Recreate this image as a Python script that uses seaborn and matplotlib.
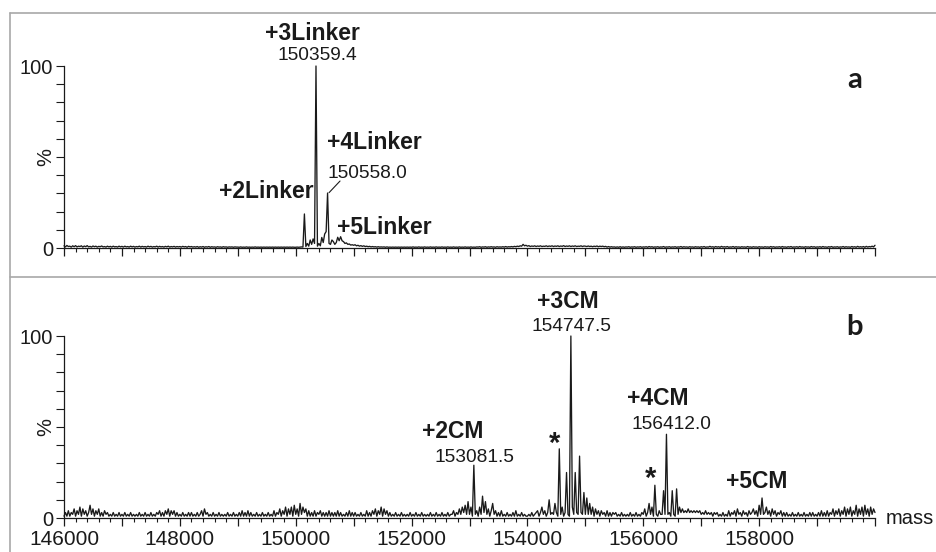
import numpy as np
import pandas as pd
import matplotlib
matplotlib.use('Agg')
import matplotlib.pyplot as plt
from matplotlib.lines import Line2D
from matplotlib.ticker import MultipleLocator, FixedLocator, FuncFormatter, NullFormatter
import seaborn as sns

# ============================================
# DATA  (deconvoluted spectra, relative intensity in %)
# ============================================
MASS_START = 146000      # Da, first point of both spectra
MASS_STEP = 25           # Da between points
MASS_END = 160000

# a: antibody + linker, one line per 1000 Da
LINKER_INTENSITY = [
    1.2, 0.6, 1.4, 0.8, 1.0, 0.5, 1.2, 0.7, 1.3, 0.6, 1.0, 0.8, 1.2, 0.5, 1.1, 0.7, 1.3, 0.6, 0.9, 0.5,
    1.1, 0.7, 1.0, 0.5, 0.9, 0.7, 1.1, 0.6, 0.8, 0.5, 1.0, 0.6, 0.9, 0.5, 1.0, 0.6, 0.8, 0.5, 1.0, 0.6,  # 146000
    0.9, 0.5, 1.0, 0.6, 0.8, 0.5, 1.0, 0.6, 0.9, 0.5, 0.8, 0.6, 1.0, 0.5, 0.9, 0.6, 0.8, 0.5, 1.0, 0.6,
    0.9, 0.5, 0.8, 0.6, 1.0, 0.5, 0.9, 0.6, 0.8, 0.5, 0.9, 0.6, 1.0, 0.5, 0.8, 0.6, 0.9, 0.5, 0.8, 0.6,  # 147000
    0.8, 0.5, 0.9, 0.6, 0.8, 0.4, 0.9, 0.6, 0.8, 0.5, 0.7, 0.5, 0.8, 0.4, 0.7, 0.5, 0.8, 0.4, 0.7, 0.5,
    0.8, 0.4, 0.7, 0.5, 0.6, 0.4, 0.7, 0.5, 0.6, 0.4, 0.7, 0.5, 0.6, 0.4, 0.6, 0.5, 0.6, 0.4, 0.6, 0.5,  # 148000
    0.5, 0.4, 0.6, 0.4, 0.5, 0.4, 0.6, 0.4, 0.5, 0.4, 0.5, 0.4, 0.6, 0.4, 0.5, 0.4, 0.5, 0.4, 0.5, 0.4,
    0.5, 0.4, 0.5, 0.4, 0.5, 0.4, 0.5, 0.4, 0.5, 0.4, 0.5, 0.4, 0.5, 0.4, 0.5, 0.4, 0.5, 0.4, 0.5, 0.4,  # 149000
    0.4, 0.5, 0.4, 0.5, 0.6, 0.5, 18.7, 0.8, 2.5, 1.0, 4.4, 2.0, 5.0, 2.5, 100, 1.0, 2.5, 1.2, 5.8, 3.0,
    7.7, 9.0, 30.2, 2.5, 2.0, 4.4, 3.5, 2.0, 3.0, 5.9, 4.0, 6.2, 4.0, 3.5, 2.5, 2.8, 2.0, 2.2, 1.6, 1.8,  # 150000
    1.5, 1.8, 1.2, 1.5, 1.0, 1.3, 0.9, 1.2, 0.8, 1.0, 0.7, 0.9, 0.6, 0.8, 0.6, 0.7, 0.5, 0.7, 0.5, 0.6,
    0.5, 0.6, 0.4, 0.6, 0.4, 0.5, 0.4, 0.5, 0.4, 0.5, 0.4, 0.5, 0.4, 0.5, 0.4, 0.5, 0.4, 0.5, 0.4, 0.5,  # 151000
    0.4, 0.6, 0.4, 0.5, 0.4, 0.6, 0.4, 0.5, 0.4, 0.6, 0.4, 0.5, 0.4, 0.6, 0.4, 0.5, 0.4, 0.6, 0.4, 0.5,
    0.4, 0.6, 0.4, 0.5, 0.4, 0.6, 0.4, 0.5, 0.4, 0.6, 0.4, 0.5, 0.4, 0.6, 0.4, 0.5, 0.4, 0.6, 0.4, 0.5,  # 152000
    0.4, 0.6, 0.4, 0.5, 0.4, 0.6, 0.5, 0.7, 0.4, 0.6, 0.5, 0.7, 0.4, 0.6, 0.5, 0.7, 0.5, 0.6, 0.4, 0.7,
    0.5, 0.6, 0.5, 0.7, 0.5, 0.8, 0.5, 0.7, 0.6, 0.8, 0.6, 0.9, 0.7, 1.0, 0.8, 1.2, 1.0, 2.0, 1.2, 1.5,  # 153000
    1.0, 1.3, 0.8, 1.1, 0.9, 1.2, 0.8, 1.1, 0.9, 1.2, 0.8, 1.0, 0.9, 1.2, 0.8, 1.1, 0.9, 1.2, 0.8, 1.1,
    0.9, 1.2, 0.8, 1.1, 0.9, 1.3, 0.8, 1.1, 0.9, 1.2, 0.8, 1.1, 0.9, 1.2, 0.8, 1.0, 0.9, 1.2, 0.8, 1.1,  # 154000
    1.0, 0.8, 1.1, 0.8, 1.0, 0.7, 1.0, 0.8, 1.1, 0.7, 1.0, 0.8, 1.0, 0.7, 0.9, 0.5, 0.8, 0.5, 0.7, 0.5,
    0.6, 0.4, 0.6, 0.4, 0.7, 0.4, 0.6, 0.4, 0.6, 0.5, 0.7, 0.4, 0.6, 0.5, 0.7, 0.4, 0.6, 0.5, 0.7, 0.4,  # 155000
    0.6, 0.5, 0.7, 0.4, 0.8, 0.5, 0.7, 0.4, 0.6, 0.5, 0.7, 0.4, 0.6, 0.5, 0.8, 0.4, 0.6, 0.5, 0.7, 0.4,
    0.6, 0.5, 0.7, 0.4, 0.6, 0.5, 0.8, 0.4, 0.7, 0.5, 0.6, 0.4, 0.7, 0.5, 0.6, 0.4, 0.7, 0.5, 0.6, 0.4,  # 156000
    0.7, 0.5, 0.8, 0.4, 0.6, 0.5, 0.9, 0.5, 0.7, 0.4, 0.8, 0.5, 0.7, 0.4, 0.9, 0.5, 0.7, 0.5, 0.8, 0.4,
    0.6, 0.5, 0.8, 0.4, 0.7, 0.5, 0.6, 0.4, 0.7, 0.5, 0.6, 0.4, 0.8, 0.5, 0.6, 0.4, 0.7, 0.5, 0.6, 0.4,  # 157000
    0.7, 0.5, 0.6, 0.4, 0.7, 0.5, 0.6, 0.4, 0.8, 0.5, 0.7, 0.4, 0.6, 0.5, 0.7, 0.4, 0.8, 0.5, 0.6, 0.4,
    0.7, 0.5, 0.8, 0.4, 0.6, 0.5, 0.7, 0.4, 0.8, 0.5, 0.6, 0.4, 0.7, 0.5, 0.6, 0.4, 0.8, 0.5, 0.7, 0.4,  # 158000
    0.6, 0.5, 0.7, 0.4, 0.8, 0.5, 0.6, 0.4, 0.7, 0.5, 0.8, 0.4, 0.6, 0.5, 0.7, 0.4, 0.6, 0.5, 0.8, 0.4,
    0.7, 0.5, 0.6, 0.4, 0.8, 0.5, 0.7, 0.4, 0.9, 0.5, 0.7, 0.5, 0.8, 0.4, 0.9, 0.5, 0.8, 0.6, 1.0, 0.6,  # 159000
    1.5,                                                                                                  # 160000
]

# b: antibody + CM conjugate
CM_INTENSITY = [
    1, 3, 1, 4, 1, 3, 2, 5, 1, 4, 2, 6, 1, 5, 2, 4, 1, 3, 7, 2,
    5, 1, 4, 2, 5, 1, 3, 1, 4, 2, 3, 1, 2, 1, 3, 1, 2, 1, 3, 1,        # 146000
    2, 1, 3, 1, 2, 1, 3, 1, 2, 1, 2, 1, 3, 1, 2, 1, 3, 1, 2, 1,
    3, 1, 2, 1, 3, 2, 4, 1, 3, 1, 4, 2, 5, 1, 4, 2, 4, 1, 3, 1,        # 147000
    2, 1, 3, 1, 2, 1, 3, 1, 3, 1, 2, 1, 3, 1, 2, 4, 1, 5, 2, 3,
    1, 2, 1, 3, 1, 2, 1, 3, 1, 2, 1, 2, 1, 3, 1, 2, 1, 3, 1, 2,        # 148000
    1, 3, 1, 4, 1, 3, 1, 4, 1, 3, 1, 2, 1, 3, 1, 2, 1, 3, 1, 2,
    1, 3, 1, 2, 1, 4, 1, 3, 2, 5, 1, 4, 2, 6, 1, 5, 2, 6, 1, 7,        # 149000
    2, 5, 1, 8, 2, 6, 3, 5, 1, 4, 1, 3, 1, 4, 1, 3, 2, 4, 1, 3,
    1, 3, 1, 4, 1, 3, 1, 3, 1, 4, 1, 3, 1, 2, 1, 3, 1, 4, 1, 3,        # 150000
    1, 3, 1, 2, 1, 3, 1, 2, 1, 4, 1, 3, 1, 4, 2, 5, 1, 4, 2, 6,
    1, 5, 2, 4, 1, 3, 1, 2, 1, 3, 1, 2, 1, 3, 1, 2, 1, 2, 1, 3,        # 151000
    1, 2, 1, 3, 1, 2, 1, 3, 1, 2, 1, 2, 1, 3, 1, 2, 1, 3, 1, 2,
    1, 3, 1, 2, 1, 3, 1, 2, 2, 4, 1, 3, 2, 5, 2, 6, 3, 7, 2, 9,        # 152000
    2, 6, 1, 29, 2, 4, 1, 6, 2, 12, 3, 9, 2, 5, 1, 4, 8, 2, 4, 1,
    3, 1, 4, 1, 2, 1, 3, 1, 2, 1, 3, 1, 4, 1, 2, 1, 3, 1, 2, 1,        # 153000
    1, 2, 1, 3, 1, 2, 3, 4, 1, 3, 6, 2, 4, 1, 3, 10, 2, 3, 2, 8,
    3, 1, 38, 2, 6, 1, 3, 25, 2, 1, 100, 6, 2, 25, 3, 2, 34, 3, 2, 14,  # 154000
    2, 11, 2, 8, 2, 6, 1, 5, 2, 4, 1, 4, 2, 3, 1, 4, 1, 3, 1, 3,
    2, 3, 1, 2, 1, 3, 1, 2, 1, 2, 1, 3, 1, 2, 1, 3, 1, 2, 1, 3,        # 155000
    2, 5, 1, 3, 8, 2, 6, 1, 18, 2, 1, 4, 2, 2, 15, 2, 46, 2, 3, 1,
    15, 2, 1, 16, 2, 6, 3, 5, 3, 4, 3, 5, 3, 4, 3, 4, 3, 4, 3, 4,      # 156000
    2, 3, 2, 4, 2, 3, 2, 3, 1, 3, 2, 3, 1, 2, 1, 3, 1, 2, 1, 4,
    1, 3, 2, 4, 1, 5, 2, 3, 1, 4, 2, 3, 1, 4, 2, 3, 5, 2, 4, 1,        # 157000
    7, 2, 11, 2, 3, 6, 2, 4, 1, 5, 2, 4, 1, 3, 2, 4, 1, 3, 1, 3,
    1, 2, 1, 3, 1, 2, 1, 3, 1, 2, 1, 3, 1, 2, 1, 3, 1, 3, 1, 2,        # 158000
    1, 3, 1, 4, 1, 3, 1, 4, 1, 3, 2, 5, 1, 4, 2, 5, 1, 4, 2, 6,
    1, 5, 2, 6, 1, 4, 2, 7, 1, 5, 2, 6, 1, 7, 2, 5, 1, 6, 2, 5,        # 159000
    3,                                                                 # 160000
]

MASS_TICK_LABELS = [146000, 148000, 150000, 152000, 154000, 156000, 158000]

LINKER_TAGS = ['+2Linker', '+3Linker', '+4Linker', '+5Linker']
LINKER_MASSES = ['150359.4', '150558.0']
CM_TAGS = ['+2CM', '+3CM', '+4CM', '+5CM']
CM_MASSES = ['153081.5', '154747.5', '156412.0']

# ============================================
# STYLE
# ============================================
sns.set_theme(style='ticks')
plt.rcParams['font.family'] = ['Liberation Sans', 'DejaVu Sans']
plt.rcParams['axes.linewidth'] = 0.9
INK = '#1a1a1a'
FRAME = '#a8a8a8'

W, H = 936, 552
fig = plt.figure(figsize=(W / 100, H / 100), dpi=100)
fig.patch.set_facecolor('white')

# axes boxes in pixels: left, right, top(100 %), bottom(0 %)
ax_a = fig.add_axes([64 / W, 1 - 248 / H, 811 / W, 182 / H])
ax_b = fig.add_axes([64 / W, 1 - 518 / H, 811 / W, 182 / H])

for ax, inten in [(ax_a, LINKER_INTENSITY), (ax_b, CM_INTENSITY)]:
    df = pd.DataFrame({'mass': MASS_START + MASS_STEP * np.arange(len(inten)),
                       'pct': inten})
    sns.lineplot(data=df, x='mass', y='pct', ax=ax, color=INK, linewidth=0.95,
                 estimator=None, sort=False)
    for ln in ax.lines:
        ln.set_clip_on(False)
    ax.set_xlim(MASS_START, MASS_END)
    ax.set_ylim(0, 100)
    ax.set_xlabel('')
    ax.set_ylabel('')
    ax.set_facecolor('none')
    sns.despine(ax=ax)
    for s in ['left', 'bottom']:
        ax.spines[s].set_color(INK)

    ax.xaxis.set_major_locator(MultipleLocator(1000))
    ax.xaxis.set_minor_locator(MultipleLocator(200))
    ax.yaxis.set_major_locator(FixedLocator([0, 100]))
    ax.yaxis.set_minor_locator(MultipleLocator(10))
    ax.tick_params(axis='x', which='major', length=5.8, width=0.9, color=INK,
                   labelsize=15, pad=2.5, labelcolor=INK)
    ax.tick_params(axis='x', which='minor', length=3.2, width=0.8, color=INK)
    ax.tick_params(axis='y', which='both', length=6.0, width=0.8, color=INK,
                   labelsize=14.5, pad=2, labelcolor=INK)
    ax.yaxis.set_major_formatter(FuncFormatter(lambda v, p: f'{v:.0f}'))
    ax.text(-0.022, 0.5, '%', transform=ax.transAxes, rotation=90,
            ha='center', va='center', fontsize=14.5, color=INK)

ax_a.xaxis.set_major_formatter(NullFormatter())
ax_b.xaxis.set_major_formatter(
    FuncFormatter(lambda v, p: f'{v:.0f}' if v in MASS_TICK_LABELS else ''))

bold = dict(ha='center', va='center', fontsize=16.5, fontweight='bold', color=INK)
plain = dict(ha='center', va='center', fontsize=13.8, color=INK)

# --- panel a annotations ---
tag_pos_a = [(149487, 30.8), (150281, 118.0), (151351, 57.7), (151524, 11.5)]
for tag, (x, y) in zip(LINKER_TAGS, tag_pos_a):
    ax_a.text(x, y, tag, clip_on=False, **bold)
mass_pos_a = [(150367, 106.0), (151231, 41.2)]
for lab, (x, y) in zip(LINKER_MASSES, mass_pos_a):
    ax_a.text(x, y, lab, clip_on=False, **plain)
ax_a.plot([150575, 150765], [30.4, 36.8], color=INK, lw=0.8, clip_on=False)
ax_a.text(0.975, 0.923, 'a', transform=ax_a.transAxes, ha='center', va='center',
          fontsize=21, fontweight='bold', family=['Lato', 'DejaVu Sans'], color=INK)

# --- panel b annotations ---
tag_pos_b = [(152715, 47.3), (154700, 119.2), (156254, 65.4), (157963, 19.8)]
for tag, (x, y) in zip(CM_TAGS, tag_pos_b):
    ax_b.text(x, y, tag, clip_on=False, **bold)
mass_pos_b = [(153078, 33.5), (154752, 105.0), (156479, 51.6)]
for lab, (x, y) in zip(CM_MASSES, mass_pos_b):
    ax_b.text(x, y, lab, clip_on=False, **plain)
for x, y in [(154476, 40.5), (156133, 21.3)]:
    ax_b.text(x, y, '*', ha='center', va='center', fontsize=21,
              fontweight='bold', color=INK, clip_on=False)
ax_b.text(0.975, 1.049, 'b', transform=ax_b.transAxes, ha='center', va='center',
          fontsize=21, fontweight='bold', family=['Lato', 'DejaVu Sans'], color=INK)
ax_b.text(1.0136, -0.035, 'mass', transform=ax_b.transAxes, ha='left',
          va='baseline', fontsize=14.5, color=INK)

# --- grey panel frame ---
def px_line(x0, y0, x1, y1):
    fig.add_artist(Line2D([x0 / W, x1 / W], [1 - y0 / H, 1 - y1 / H],
                          transform=fig.transFigure, color=FRAME, lw=1.2))

px_line(10, 13, 10, H)
px_line(10, 13, W, 13)
px_line(10, 277, W, 277)

fig.savefig('out.png', dpi=100, facecolor='white')
